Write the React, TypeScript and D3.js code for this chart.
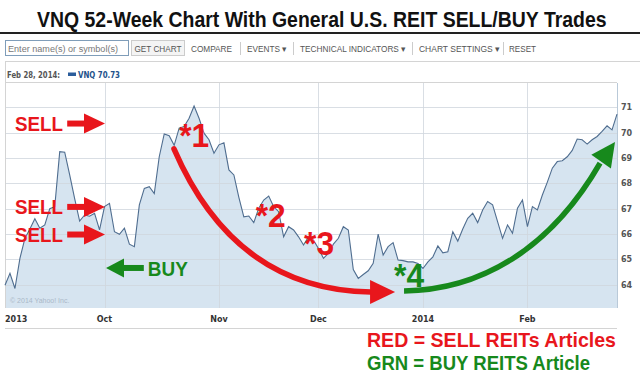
import React, { useLayoutEffect, useRef, useState } from 'react';
import * as d3 from 'd3';

// VNQ daily closes, Sep 3 2013 .. Feb 28 2014 (trading days)
const prices: number[] = [
  63.98, 64.45, 63.85, 65.04, 65.83, 66.2, 66.6, 66.23, 66.36, 67.0,
  67.08, 69.25, 69.23, 68.33, 67.4, 66.51, 66.75, 66.7, 66.82, 66.16,
  67.08, 67.21, 66.09, 65.99, 66.23, 65.6, 65.5, 67.15, 67.8, 67.87,
  67.6, 69.05, 69.95, 69.88, 69.5, 70.18, 70.24, 70.57, 71.05, 70.57,
  69.98, 69.72, 69.19, 69.52, 69.6, 68.53, 68.33, 67.45, 66.68, 66.71,
  66.45, 67.02, 67.34, 67.5, 67.08, 66.88, 65.89, 66.29, 66.16, 65.89,
  65.57, 65.89, 65.76, 65.43, 65.04, 65.24, 65.6, 65.83, 66.29, 66.16,
  64.6, 64.25, 64.4, 64.55, 64.84, 66.0, 65.17, 65.5, 65.66, 64.97,
  64.95, 64.9, 64.9, 64.84, 64.64, 64.9, 65.1, 65.53, 65.26, 65.3,
  66.09, 65.72, 66.2, 66.62, 66.82, 66.45, 66.95, 67.28, 67.15, 66.49,
  65.83, 66.36, 66.03, 67.02, 67.34, 66.29, 67.08, 66.95, 67.54, 68.05,
  68.6, 68.86, 68.89, 69.05, 69.3, 69.75, 69.72, 69.55, 69.72, 69.85,
  70.05, 70.27, 70.11, 70.73,
];

const monthLabels = ['Oct', 'Nov', 'Dec', '2014', 'Feb'];
const monthIndex = [20, 43, 63, 84, 105];
const startLabel = '2013';
const yTicks = [64, 65, 66, 67, 68, 69, 70, 71];
const yDomain = [63.08, 72];

const toolbarItems = ['COMPARE', 'EVENTS \u25BE', 'TECHNICAL INDICATORS \u25BE', 'CHART SETTINGS \u25BE', 'RESET'];
const toolbarX = [191, 247, 300, 419, 509];
const toolbarW = [41, 40, 106, 81, 27];
const toolbarSeps = [240, 293, 412, 503];

// annotations in data coordinates [index, value]
const sellLabels: [number, number][] = [[2.0, 70.05], [2.0, 66.79], [2.0, 65.69]];
const sellArrowY = [70.36, 67.07, 65.98];
const sellArrowI = [12.5, 20.1];
const buyArrow = { from: 27.9, to: 20.3, v: 64.66, textI: 28.7, textV: 64.34 };
const starLabels = ['*1', '*2', '*3', '*4'];
const starPos: [number, number][] = [[35.0, 69.43], [50.4, 66.28], [60.1, 65.17], [78.2, 63.91]];
const redCurve: [number, number][] = [[33.96, 69.36], [46.2, 63.79], [73.5, 63.71], [78.4, 63.71]];
const greenCurve: [number, number][] = [[80.2, 63.75], [95.5, 63.79], [109.5, 65.37], [119.6, 68.8], [122.6, 69.63]];

const TITLE = 'VNQ 52-Week Chart With General U.S. REIT SELL/BUY Trades';
const RED = '#e8161c';
const GREEN = '#17891c';

export default function App() {
  const W = 640, H = 378;
  const N = prices.length;
  const x = d3.scaleLinear().domain([0, N - 1]).range([5, 617]);
  const y = d3.scaleLinear().domain(yDomain).range([308, 82]);
  const P = (p: [number, number]) => [x(p[0]), y(p[1])];

  const titleRef = useRef<SVGTextElement>(null);
  const [titleScale, setTitleScale] = useState(0.88);
  useLayoutEffect(() => {
    const el = titleRef.current;
    if (el) {
      const len = el.getComputedTextLength();
      if (len > 0) setTitleScale(570 / len);
    }
  }, []);

  const area = d3.area<number>().x((_, i) => x(i)).y0(y(yDomain[0])).y1(d => y(d))(prices) || '';
  const line = d3.line<number>().x((_, i) => x(i)).y(d => y(d))(prices) || '';

  const head = (tip: number[], from: number[], len: number, half: number) => {
    const dx = tip[0] - from[0], dy = tip[1] - from[1];
    const L = Math.hypot(dx, dy);
    const ux = dx / L, uy = dy / L;
    const bx = tip[0] - ux * len, by = tip[1] - uy * len;
    return `${tip[0]},${tip[1]} ${bx - uy * half},${by + ux * half} ${bx + uy * half},${by - ux * half}`;
  };

  const r0 = P(redCurve[0]), r1 = P(redCurve[1]), r2 = P(redCurve[2]), rt = P(redCurve[3]);
  const redPath = `M${r0[0]},${r0[1]} Q${r1[0]},${r1[1]} ${r2[0]},${r2[1]}`;
  const g0 = P(greenCurve[0]), g1 = P(greenCurve[1]), g2 = P(greenCurve[2]), g3 = P(greenCurve[3]), gt = P(greenCurve[4]);
  const greenPath = `M${g0[0]},${g0[1]} C${g1[0]},${g1[1]} ${g2[0]},${g2[1]} ${g3[0]},${g3[1]}`;

  const small = { fontFamily: '"DejaVu Sans", Verdana, sans-serif', fontWeight: 700 as const };
  const bold = { fontFamily: '"Liberation Sans", Arial, sans-serif', fontWeight: 700 as const };
  const tb = '"Liberation Sans", Arial, sans-serif';

  return (
    <svg width={W} height={H} style={{ position: 'absolute', left: 0, top: 0, background: '#fff' }}>
      <rect x={0} y={0} width={W} height={H} fill="#fff" />
      {/* title */}
      <g transform={`translate(37,27) scale(${titleScale},1)`}>
        <text ref={titleRef} x={0} y={0} fontSize={22} {...bold} fill="#111">{TITLE}</text>
      </g>
      <rect x={0} y={32} width={W} height={2} fill="#222" />

      {/* toolbar */}
      <rect x={5.5} y={40.5} width={123} height={15} fill="#fff" stroke="#7f9db9" />
      <text x={8} y={51.5} fontSize={8.5} fontFamily={tb} fill="#777" textLength={110} lengthAdjust="spacingAndGlyphs">Enter name(s) or symbol(s)</text>
      <rect x={131.5} y={40.5} width={53} height={15} fill="#f4f4f4" stroke="#ccc" />
      <text x={134.5} y={51.5} fontSize={8.5} fontFamily={tb} fill="#555" textLength={47} lengthAdjust="spacingAndGlyphs">GET CHART</text>
      {toolbarItems.map((t, i) => (
        <text key={t} x={toolbarX[i]} y={51.5} fontSize={8.5} fontFamily={tb} fill="#555" textLength={toolbarW[i]} lengthAdjust="spacingAndGlyphs">{t}</text>
      ))}
      {toolbarSeps.map(sx => <line key={sx} x1={sx + 0.5} x2={sx + 0.5} y1={42} y2={55} stroke="#ccc" />)}

      {/* chart box */}
      <line x1={5} x2={W} y1={61.5} y2={61.5} stroke="#d4d4d4" />
      <text x={7} y={78} fontSize={8} {...small} fill="#555" textLength={53} lengthAdjust="spacingAndGlyphs">Feb 28, 2014:</text>
      <rect x={68} y={72.5} width={8} height={3.5} fill="#2b5d9b" />
      <text x={78} y={78} fontSize={8} {...small} fill="#24528a" textLength={42} lengthAdjust="spacingAndGlyphs">VNQ 70.73</text>

      <path d={area} fill="#d6e4f0" />
      {yTicks.map(t => (
        <line key={t} x1={5} x2={617} y1={Math.round(y(t)) + 0.5} y2={Math.round(y(t)) + 0.5} stroke="#cfd6dd" strokeOpacity={0.8} />
      ))}
      <line x1={5} x2={617} y1={82.5} y2={82.5} stroke="#d4d4d4" />
      {monthIndex.map(m => (
        <line key={m} x1={Math.round(x(m)) + 0.5} x2={Math.round(x(m)) + 0.5} y1={83} y2={308} stroke="#cfd6dd" strokeOpacity={0.8} />
      ))}
      <line x1={5.5} x2={5.5} y1={62} y2={308} stroke="#d4d4d4" />
      <line x1={617.5} x2={617.5} y1={83} y2={308} stroke="#b9c9d8" />
      <path d={line} fill="none" stroke="#4f6d8f" strokeWidth={1.1} />
      <text x={10} y={303} fontSize={7} fontFamily={tb} fill="#aab8c8">© 2014 Yahoo! Inc.</text>

      {/* axes labels */}
      {yTicks.map(t => (
        <text key={t} x={621} y={y(t) + 3} fontSize={8} {...small} fill="#555">{t}</text>
      ))}
      <text x={5} y={322} fontSize={8} {...small} fill="#333">{startLabel}</text>
      {monthLabels.map((m, i) => (
        <text key={m} x={x(monthIndex[i])} y={322} fontSize={8} {...small} fill="#333" textAnchor="middle">{m}</text>
      ))}
      <line x1={5} x2={617} y1={328.5} y2={328.5} stroke="#d4d4d4" />

      {/* SELL labels and arrows */}
      {sellLabels.map((p, i) => {
        const [tx, ty] = P(p);
        const ay = y(sellArrowY[i]);
        const ax0 = x(sellArrowI[0]), ax1 = x(sellArrowI[1]);
        return (
          <g key={i}>
            <text x={tx} y={ty} fontSize={20} {...bold} fill={RED} textLength={48} lengthAdjust="spacingAndGlyphs">SELL</text>
            <line x1={ax0} x2={ax1 - 18} y1={ay} y2={ay} stroke={RED} strokeWidth={6} />
            <polygon points={head([ax1, ay], [ax0, ay], 21, 10)} fill={RED} />
          </g>
        );
      })}
      {/* BUY */}
      {(() => {
        const ay = y(buyArrow.v);
        const a0 = x(buyArrow.from), a1 = x(buyArrow.to);
        const [tx, ty] = P([buyArrow.textI, buyArrow.textV]);
        return (
          <g>
            <line x1={a0} x2={a1 + 16} y1={ay} y2={ay} stroke={GREEN} strokeWidth={6} />
            <polygon points={head([a1, ay], [a0, ay], 18, 9.5)} fill={GREEN} />
            <text x={tx} y={ty} fontSize={20} {...bold} fill={GREEN} textLength={40} lengthAdjust="spacingAndGlyphs">BUY</text>
          </g>
        );
      })()}

      {/* curves */}
      <path d={redPath} fill="none" stroke={RED} strokeWidth={5.5} strokeLinecap="round" />
      <polygon points={head(rt, r2, 25, 12)} fill={RED} />
      <path d={greenPath} fill="none" stroke={GREEN} strokeWidth={5.5} strokeLinecap="butt" />
      <polygon points={head(gt, g3, 24, 12)} fill={GREEN} />

      {starLabels.map((s, i) => {
        const [sx, sy] = P(starPos[i]);
        return (
          <text key={s} x={sx} y={sy} fontSize={33} {...bold} fill={i === 3 ? GREEN : RED} textLength={30} lengthAdjust="spacingAndGlyphs">{s}</text>
        );
      })}

      {/* legend */}
      <rect x={362} y={330} width={258} height={44} fill="#fff" />
      <text x={367} y={347} fontSize={21} {...bold} fill={RED} textLength={249} lengthAdjust="spacingAndGlyphs">RED = SELL REITs Articles</text>
      <text x={367} y={370} fontSize={21} {...bold} fill={GREEN} textLength={223} lengthAdjust="spacingAndGlyphs">GRN = BUY REITS Article</text>
    </svg>
  );
}
